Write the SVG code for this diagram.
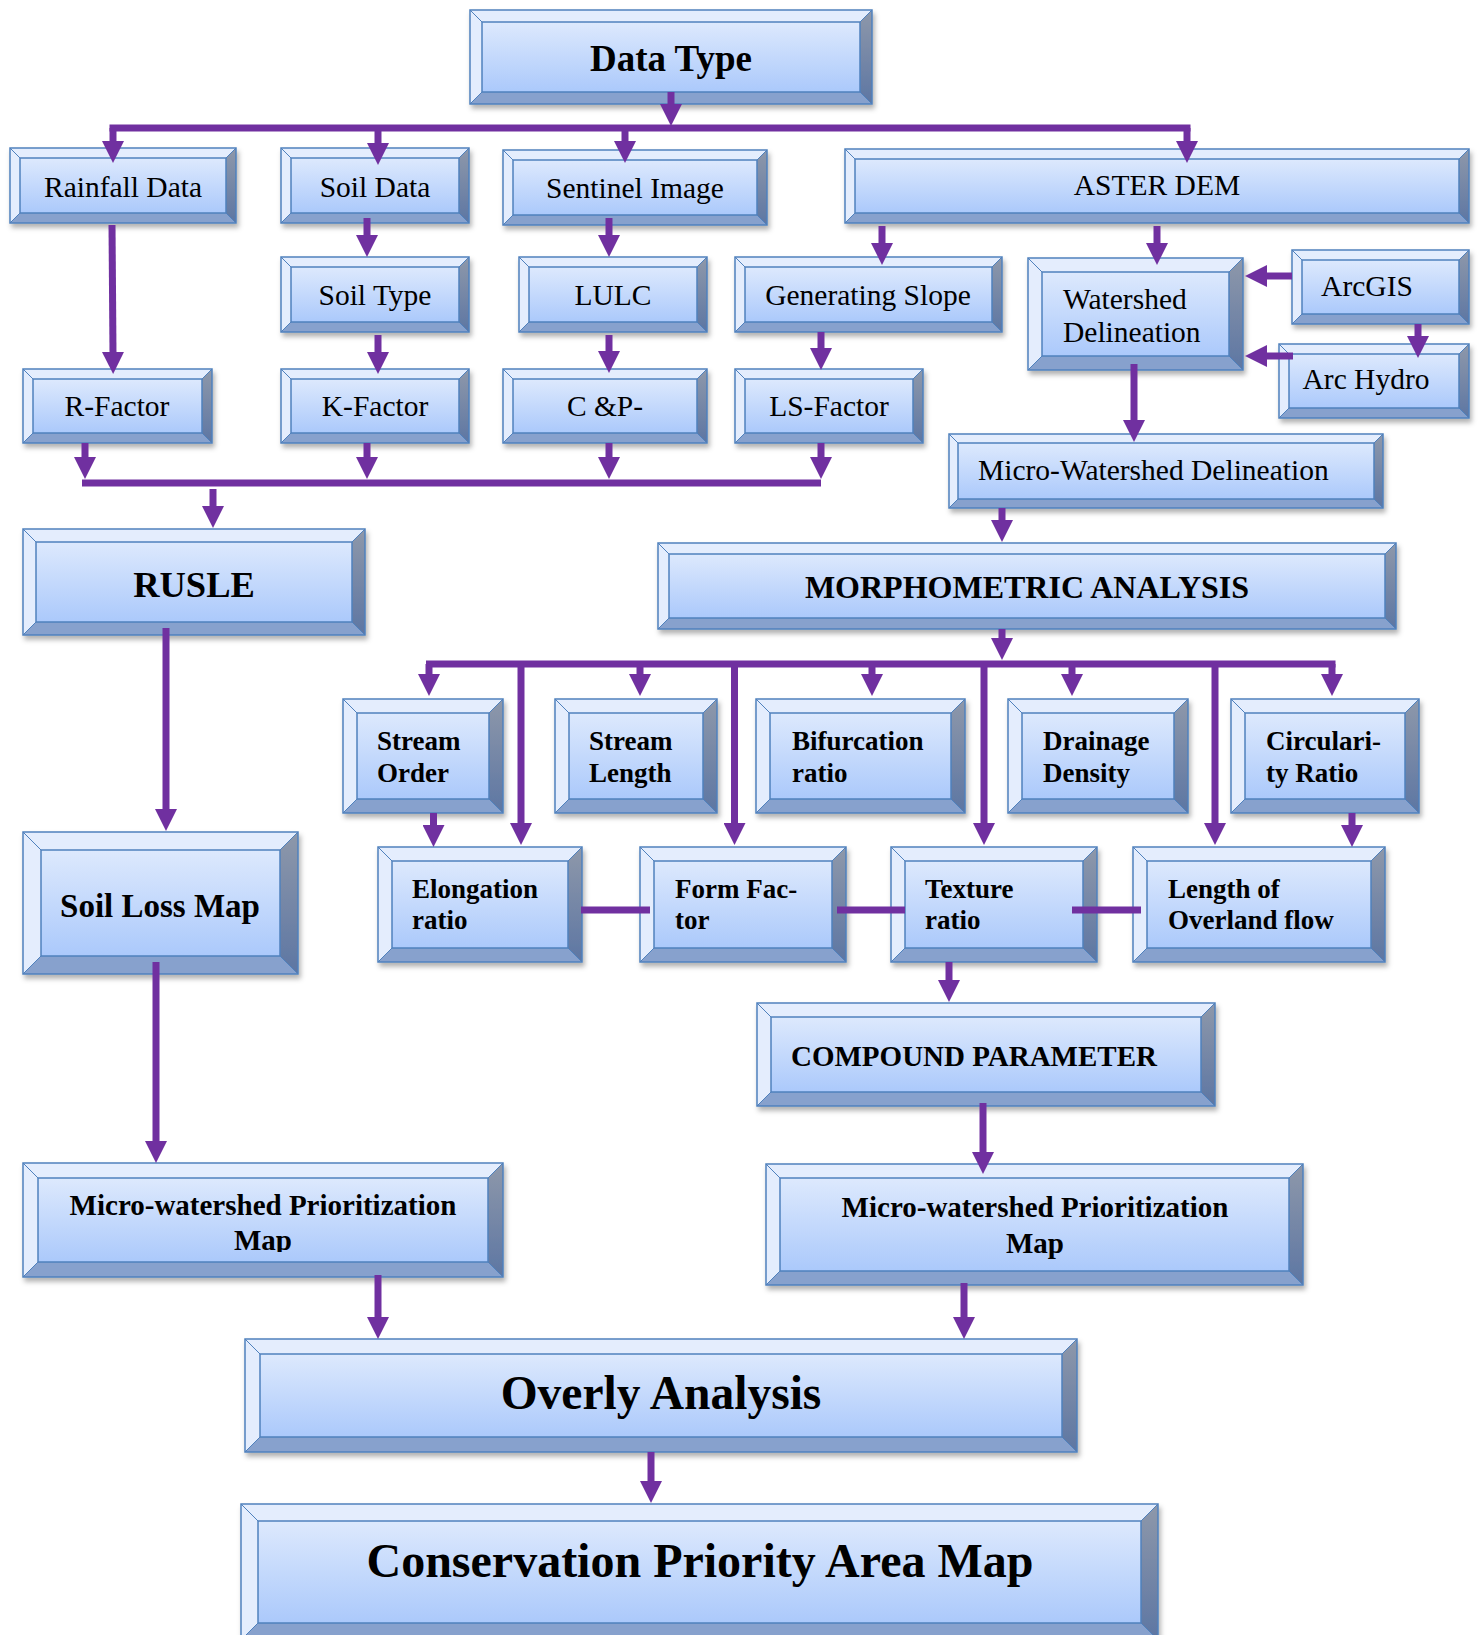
<svg xmlns="http://www.w3.org/2000/svg" width="1480" height="1635" viewBox="0 0 1480 1635">
<style>
.o{fill:#87a1cd}
.lt{fill:#e4edfd}
.rt{fill:url(#gR)}
.f{fill:url(#gF);stroke:#4f81bd;stroke-width:1.5}
.d{stroke:#4f81bd;stroke-width:1;fill:none}
.e{fill:none;stroke:#4f81bd;stroke-width:1.5}
.box{filter:url(#sh)}
text{font-family:"Liberation Serif","Times New Roman",serif;fill:#000}
.r{font-size:29.5px}
.b{font-weight:bold}
.m{text-anchor:middle}
.s27{font-size:27px}
.c{fill:none;stroke:#7030a0;stroke-width:7}
.ca{marker-end:url(#ah)}
</style>
<defs>
<linearGradient id="gF" x1="0" y1="0" x2="0" y2="1"><stop offset="0" stop-color="#dde9fd"/><stop offset="1" stop-color="#abc9fb"/></linearGradient>
<linearGradient id="gR" x1="0" y1="0" x2="0" y2="1"><stop offset="0" stop-color="#8e98aa"/><stop offset="1" stop-color="#5d76a3"/></linearGradient>
<filter id="sh" x="-5%" y="-10%" width="112%" height="135%"><feDropShadow dx="2" dy="4" stdDeviation="2.5" flood-color="#000" flood-opacity="0.3"/></filter>
<marker id="ah" markerUnits="userSpaceOnUse" markerWidth="22" markerHeight="22" viewBox="0 0 22 22" refX="1" refY="11" orient="auto"><path d="M0,0 L22,11 L0,22 Z" fill="#7030a0"/></marker>
<clipPath id="clipPL"><rect x="23" y="1163" width="480" height="89"/></clipPath>
</defs>
<rect width="1480" height="1635" fill="#fff"/>

<g id="nodes">
<g id="n-datatype"><g class="box"><rect class="o" x="470" y="10" width="402" height="94"/><path class="lt" d="M470,104 V10 H872 L860,22 H482 V92 Z"/><path class="rt" d="M872,10 V104 L860,92 V22 Z"/><rect class="f" x="482" y="22" width="378" height="70"/><path class="d" d="M470,10 l12,12 M872,10 l-12,12 M470,104 l12,-12 M872,104 l-12,-12"/><rect class="e" x="470" y="10" width="402" height="94"/></g><text class="b m" x="671" y="71" font-size="37">Data Type</text></g>

<g id="n-rainfall"><g class="box"><rect class="o" x="10" y="148" width="226" height="75"/><path class="lt" d="M10,223 V148 H236 L226,158 H20 V213 Z"/><path class="rt" d="M236,148 V223 L226,213 V158 Z"/><rect class="f" x="20" y="158" width="206" height="55"/><path class="d" d="M10,148 l10,10 M236,148 l-10,10 M10,223 l10,-10 M236,223 l-10,-10"/><rect class="e" x="10" y="148" width="226" height="75"/></g><text class="r m" x="123" y="197">Rainfall Data</text></g>

<g id="n-soildata"><g class="box"><rect class="o" x="281" y="148" width="188" height="75"/><path class="lt" d="M281,223 V148 H469 L459,158 H291 V213 Z"/><path class="rt" d="M469,148 V223 L459,213 V158 Z"/><rect class="f" x="291" y="158" width="168" height="55"/><path class="d" d="M281,148 l10,10 M469,148 l-10,10 M281,223 l10,-10 M469,223 l-10,-10"/><rect class="e" x="281" y="148" width="188" height="75"/></g><text class="r m" x="375" y="197">Soil Data</text></g>

<g id="n-sentinel"><g class="box"><rect class="o" x="503" y="150" width="264" height="75"/><path class="lt" d="M503,225 V150 H767 L757,160 H513 V215 Z"/><path class="rt" d="M767,150 V225 L757,215 V160 Z"/><rect class="f" x="513" y="160" width="244" height="55"/><path class="d" d="M503,150 l10,10 M767,150 l-10,10 M503,225 l10,-10 M767,225 l-10,-10"/><rect class="e" x="503" y="150" width="264" height="75"/></g><text class="r m" x="635" y="198">Sentinel Image</text></g>

<g id="n-aster"><g class="box"><rect class="o" x="845" y="149" width="624" height="74"/><path class="lt" d="M845,223 V149 H1469 L1459,159 H855 V213 Z"/><path class="rt" d="M1469,149 V223 L1459,213 V159 Z"/><rect class="f" x="855" y="159" width="604" height="54"/><path class="d" d="M845,149 l10,10 M1469,149 l-10,10 M845,223 l10,-10 M1469,223 l-10,-10"/><rect class="e" x="845" y="149" width="624" height="74"/></g><text class="r m" x="1157" y="195">ASTER DEM</text></g>

<g id="n-soiltype"><g class="box"><rect class="o" x="281" y="257" width="188" height="75"/><path class="lt" d="M281,332 V257 H469 L459,267 H291 V322 Z"/><path class="rt" d="M469,257 V332 L459,322 V267 Z"/><rect class="f" x="291" y="267" width="168" height="55"/><path class="d" d="M281,257 l10,10 M469,257 l-10,10 M281,332 l10,-10 M469,332 l-10,-10"/><rect class="e" x="281" y="257" width="188" height="75"/></g><text class="r m" x="375" y="305">Soil Type</text></g>

<g id="n-lulc"><g class="box"><rect class="o" x="519" y="257" width="188" height="75"/><path class="lt" d="M519,332 V257 H707 L697,267 H529 V322 Z"/><path class="rt" d="M707,257 V332 L697,322 V267 Z"/><rect class="f" x="529" y="267" width="168" height="55"/><path class="d" d="M519,257 l10,10 M707,257 l-10,10 M519,332 l10,-10 M707,332 l-10,-10"/><rect class="e" x="519" y="257" width="188" height="75"/></g><text class="r m" x="613" y="305">LULC</text></g>

<g id="n-genslope"><g class="box"><rect class="o" x="735" y="257" width="267" height="75"/><path class="lt" d="M735,332 V257 H1002 L992,267 H745 V322 Z"/><path class="rt" d="M1002,257 V332 L992,322 V267 Z"/><rect class="f" x="745" y="267" width="247" height="55"/><path class="d" d="M735,257 l10,10 M1002,257 l-10,10 M735,332 l10,-10 M1002,332 l-10,-10"/><rect class="e" x="735" y="257" width="267" height="75"/></g><text class="r m" x="868" y="305">Generating Slope</text></g>

<g id="n-watershed"><g class="box"><rect class="o" x="1028" y="258" width="215" height="112"/><path class="lt" d="M1028,370 V258 H1243 L1229,272 H1042 V356 Z"/><path class="rt" d="M1243,258 V370 L1229,356 V272 Z"/><rect class="f" x="1042" y="272" width="187" height="84"/><path class="d" d="M1028,258 l14,14 M1243,258 l-14,14 M1028,370 l14,-14 M1243,370 l-14,-14"/><rect class="e" x="1028" y="258" width="215" height="112"/></g><text class="r" x="1063" y="309">Watershed</text><text class="r" x="1063" y="342">Delineation</text></g>

<g id="n-arcgis"><g class="box"><rect class="o" x="1292" y="250" width="177" height="74"/><path class="lt" d="M1292,324 V250 H1469 L1459,260 H1302 V314 Z"/><path class="rt" d="M1469,250 V324 L1459,314 V260 Z"/><rect class="f" x="1302" y="260" width="157" height="54"/><path class="d" d="M1292,250 l10,10 M1469,250 l-10,10 M1292,324 l10,-10 M1469,324 l-10,-10"/><rect class="e" x="1292" y="250" width="177" height="74"/></g><text class="r m" x="1367" y="296">ArcGIS</text></g>

<g id="n-archydro"><g class="box"><rect class="o" x="1279" y="344" width="190" height="74"/><path class="lt" d="M1279,418 V344 H1469 L1459,354 H1289 V408 Z"/><path class="rt" d="M1469,344 V418 L1459,408 V354 Z"/><rect class="f" x="1289" y="354" width="170" height="54"/><path class="d" d="M1279,344 l10,10 M1469,344 l-10,10 M1279,418 l10,-10 M1469,418 l-10,-10"/><rect class="e" x="1279" y="344" width="190" height="74"/></g><text class="r m" x="1366" y="389">Arc Hydro</text></g>

<g id="n-rfactor"><g class="box"><rect class="o" x="23" y="369" width="189" height="74"/><path class="lt" d="M23,443 V369 H212 L202,379 H33 V433 Z"/><path class="rt" d="M212,369 V443 L202,433 V379 Z"/><rect class="f" x="33" y="379" width="169" height="54"/><path class="d" d="M23,369 l10,10 M212,369 l-10,10 M23,443 l10,-10 M212,443 l-10,-10"/><rect class="e" x="23" y="369" width="189" height="74"/></g><text class="r m" x="117" y="416">R-Factor</text></g>

<g id="n-kfactor"><g class="box"><rect class="o" x="281" y="369" width="188" height="74"/><path class="lt" d="M281,443 V369 H469 L459,379 H291 V433 Z"/><path class="rt" d="M469,369 V443 L459,433 V379 Z"/><rect class="f" x="291" y="379" width="168" height="54"/><path class="d" d="M281,369 l10,10 M469,369 l-10,10 M281,443 l10,-10 M469,443 l-10,-10"/><rect class="e" x="281" y="369" width="188" height="74"/></g><text class="r m" x="375" y="416">K-Factor</text></g>

<g id="n-cp"><g class="box"><rect class="o" x="503" y="369" width="204" height="74"/><path class="lt" d="M503,443 V369 H707 L697,379 H513 V433 Z"/><path class="rt" d="M707,369 V443 L697,433 V379 Z"/><rect class="f" x="513" y="379" width="184" height="54"/><path class="d" d="M503,369 l10,10 M707,369 l-10,10 M503,443 l10,-10 M707,443 l-10,-10"/><rect class="e" x="503" y="369" width="204" height="74"/></g><text class="r m" x="605" y="416">C &amp;P-</text></g>

<g id="n-lsfactor"><g class="box"><rect class="o" x="735" y="369" width="188" height="74"/><path class="lt" d="M735,443 V369 H923 L913,379 H745 V433 Z"/><path class="rt" d="M923,369 V443 L913,433 V379 Z"/><rect class="f" x="745" y="379" width="168" height="54"/><path class="d" d="M735,369 l10,10 M923,369 l-10,10 M735,443 l10,-10 M923,443 l-10,-10"/><rect class="e" x="735" y="369" width="188" height="74"/></g><text class="r m" x="829" y="416">LS-Factor</text></g>

<g id="n-microws"><g class="box"><rect class="o" x="949" y="434" width="434" height="74"/><path class="lt" d="M949,508 V434 H1383 L1374,443 H958 V499 Z"/><path class="rt" d="M1383,434 V508 L1374,499 V443 Z"/><rect class="f" x="958" y="443" width="416" height="56"/><path class="d" d="M949,434 l9,9 M1383,434 l-9,9 M949,508 l9,-9 M1383,508 l-9,-9"/><rect class="e" x="949" y="434" width="434" height="74"/></g><text class="r" x="978" y="480">Micro-Watershed Delineation</text></g>

<g id="n-rusle"><g class="box"><rect class="o" x="23" y="529" width="342" height="106"/><path class="lt" d="M23,635 V529 H365 L352,542 H36 V622 Z"/><path class="rt" d="M365,529 V635 L352,622 V542 Z"/><rect class="f" x="36" y="542" width="316" height="80"/><path class="d" d="M23,529 l13,13 M365,529 l-13,13 M23,635 l13,-13 M365,635 l-13,-13"/><rect class="e" x="23" y="529" width="342" height="106"/></g><text class="b m" x="194" y="597" font-size="36.5">RUSLE</text></g>

<g id="n-morph"><g class="box"><rect class="o" x="658" y="543" width="738" height="86"/><path class="lt" d="M658,629 V543 H1396 L1385,554 H669 V618 Z"/><path class="rt" d="M1396,543 V629 L1385,618 V554 Z"/><rect class="f" x="669" y="554" width="716" height="64"/><path class="d" d="M658,543 l11,11 M1396,543 l-11,11 M658,629 l11,-11 M1396,629 l-11,-11"/><rect class="e" x="658" y="543" width="738" height="86"/></g><text class="b m" x="1027" y="598" font-size="32">MORPHOMETRIC ANALYSIS</text></g>

<g id="n-streamorder"><g class="box"><rect class="o" x="343" y="699" width="160" height="114"/><path class="lt" d="M343,813 V699 H503 L489,713 H357 V799 Z"/><path class="rt" d="M503,699 V813 L489,799 V713 Z"/><rect class="f" x="357" y="713" width="132" height="86"/><path class="d" d="M343,699 l14,14 M503,699 l-14,14 M343,813 l14,-14 M503,813 l-14,-14"/><rect class="e" x="343" y="699" width="160" height="114"/></g><text class="b s27" x="377" y="750">Stream</text><text class="b s27" x="377" y="782">Order</text></g>

<g id="n-streamlength"><g class="box"><rect class="o" x="555" y="699" width="162" height="114"/><path class="lt" d="M555,813 V699 H717 L703,713 H569 V799 Z"/><path class="rt" d="M717,699 V813 L703,799 V713 Z"/><rect class="f" x="569" y="713" width="134" height="86"/><path class="d" d="M555,699 l14,14 M717,699 l-14,14 M555,813 l14,-14 M717,813 l-14,-14"/><rect class="e" x="555" y="699" width="162" height="114"/></g><text class="b s27" x="589" y="750">Stream</text><text class="b s27" x="589" y="782">Length</text></g>

<g id="n-bifurcation"><g class="box"><rect class="o" x="756" y="699" width="209" height="114"/><path class="lt" d="M756,813 V699 H965 L951,713 H770 V799 Z"/><path class="rt" d="M965,699 V813 L951,799 V713 Z"/><rect class="f" x="770" y="713" width="181" height="86"/><path class="d" d="M756,699 l14,14 M965,699 l-14,14 M756,813 l14,-14 M965,813 l-14,-14"/><rect class="e" x="756" y="699" width="209" height="114"/></g><text class="b s27" x="792" y="750">Bifurcation</text><text class="b s27" x="792" y="782">ratio</text></g>

<g id="n-drainage"><g class="box"><rect class="o" x="1008" y="699" width="180" height="114"/><path class="lt" d="M1008,813 V699 H1188 L1174,713 H1022 V799 Z"/><path class="rt" d="M1188,699 V813 L1174,799 V713 Z"/><rect class="f" x="1022" y="713" width="152" height="86"/><path class="d" d="M1008,699 l14,14 M1188,699 l-14,14 M1008,813 l14,-14 M1188,813 l-14,-14"/><rect class="e" x="1008" y="699" width="180" height="114"/></g><text class="b s27" x="1043" y="750">Drainage</text><text class="b s27" x="1043" y="782">Density</text></g>

<g id="n-circularity"><g class="box"><rect class="o" x="1231" y="699" width="188" height="114"/><path class="lt" d="M1231,813 V699 H1419 L1405,713 H1245 V799 Z"/><path class="rt" d="M1419,699 V813 L1405,799 V713 Z"/><rect class="f" x="1245" y="713" width="160" height="86"/><path class="d" d="M1231,699 l14,14 M1419,699 l-14,14 M1231,813 l14,-14 M1419,813 l-14,-14"/><rect class="e" x="1231" y="699" width="188" height="114"/></g><text class="b s27" x="1266" y="750">Circulari-</text><text class="b s27" x="1266" y="782">ty Ratio</text></g>

<g id="n-elongation"><g class="box"><rect class="o" x="378" y="847" width="204" height="115"/><path class="lt" d="M378,962 V847 H582 L568,861 H392 V948 Z"/><path class="rt" d="M582,847 V962 L568,948 V861 Z"/><rect class="f" x="392" y="861" width="176" height="87"/><path class="d" d="M378,847 l14,14 M582,847 l-14,14 M378,962 l14,-14 M582,962 l-14,-14"/><rect class="e" x="378" y="847" width="204" height="115"/></g><text class="b s27" x="412" y="898">Elongation</text><text class="b s27" x="412" y="929">ratio</text></g>

<g id="n-formfactor"><g class="box"><rect class="o" x="640" y="847" width="206" height="115"/><path class="lt" d="M640,962 V847 H846 L832,861 H654 V948 Z"/><path class="rt" d="M846,847 V962 L832,948 V861 Z"/><rect class="f" x="654" y="861" width="178" height="87"/><path class="d" d="M640,847 l14,14 M846,847 l-14,14 M640,962 l14,-14 M846,962 l-14,-14"/><rect class="e" x="640" y="847" width="206" height="115"/></g><text class="b s27" x="675" y="898">Form Fac-</text><text class="b s27" x="675" y="929">tor</text></g>

<g id="n-texture"><g class="box"><rect class="o" x="891" y="847" width="206" height="115"/><path class="lt" d="M891,962 V847 H1097 L1083,861 H905 V948 Z"/><path class="rt" d="M1097,847 V962 L1083,948 V861 Z"/><rect class="f" x="905" y="861" width="178" height="87"/><path class="d" d="M891,847 l14,14 M1097,847 l-14,14 M891,962 l14,-14 M1097,962 l-14,-14"/><rect class="e" x="891" y="847" width="206" height="115"/></g><text class="b s27" x="925" y="898">Texture</text><text class="b s27" x="925" y="929">ratio</text></g>

<g id="n-overland"><g class="box"><rect class="o" x="1133" y="847" width="252" height="115"/><path class="lt" d="M1133,962 V847 H1385 L1371,861 H1147 V948 Z"/><path class="rt" d="M1385,847 V962 L1371,948 V861 Z"/><rect class="f" x="1147" y="861" width="224" height="87"/><path class="d" d="M1133,847 l14,14 M1385,847 l-14,14 M1133,962 l14,-14 M1385,962 l-14,-14"/><rect class="e" x="1133" y="847" width="252" height="115"/></g><text class="b s27" x="1168" y="898">Length of</text><text class="b s27" x="1168" y="929">Overland flow</text></g>

<g id="n-soilloss"><g class="box"><rect class="o" x="23" y="832" width="275" height="142"/><path class="lt" d="M23,974 V832 H298 L280,850 H41 V956 Z"/><path class="rt" d="M298,832 V974 L280,956 V850 Z"/><rect class="f" x="41" y="850" width="239" height="106"/><path class="d" d="M23,832 l18,18 M298,832 l-18,18 M23,974 l18,-18 M298,974 l-18,-18"/><rect class="e" x="23" y="832" width="275" height="142"/></g><text class="b m" x="160" y="917" font-size="33">Soil Loss Map</text></g>

<g id="n-compound"><g class="box"><rect class="o" x="757" y="1003" width="458" height="103"/><path class="lt" d="M757,1106 V1003 H1215 L1201,1017 H771 V1092 Z"/><path class="rt" d="M1215,1003 V1106 L1201,1092 V1017 Z"/><rect class="f" x="771" y="1017" width="430" height="75"/><path class="d" d="M757,1003 l14,14 M1215,1003 l-14,14 M757,1106 l14,-14 M1215,1106 l-14,-14"/><rect class="e" x="757" y="1003" width="458" height="103"/></g><text class="b" x="791" y="1066" font-size="29">COMPOUND PARAMETER</text></g>

<g id="n-priorleft"><g class="box"><rect class="o" x="23" y="1163" width="480" height="114"/><path class="lt" d="M23,1277 V1163 H503 L488,1178 H38 V1262 Z"/><path class="rt" d="M503,1163 V1277 L488,1262 V1178 Z"/><rect class="f" x="38" y="1178" width="450" height="84"/><path class="d" d="M23,1163 l15,15 M503,1163 l-15,15 M23,1277 l15,-15 M503,1277 l-15,-15"/><rect class="e" x="23" y="1163" width="480" height="114"/></g><g clip-path="url(#clipPL)"><text class="b m" x="263" y="1215" font-size="29">Micro-watershed Prioritization</text><text class="b m" x="263" y="1250" font-size="29">Map</text></g></g>

<g id="n-priorright"><g class="box"><rect class="o" x="766" y="1164" width="537" height="121"/><path class="lt" d="M766,1285 V1164 H1303 L1289,1178 H780 V1271 Z"/><path class="rt" d="M1303,1164 V1285 L1289,1271 V1178 Z"/><rect class="f" x="780" y="1178" width="509" height="93"/><path class="d" d="M766,1164 l14,14 M1303,1164 l-14,14 M766,1285 l14,-14 M1303,1285 l-14,-14"/><rect class="e" x="766" y="1164" width="537" height="121"/></g><text class="b m" x="1035" y="1217" font-size="29">Micro-watershed Prioritization</text><text class="b m" x="1035" y="1253" font-size="29">Map</text></g>

<g id="n-overly"><g class="box"><rect class="o" x="245" y="1339" width="832" height="113"/><path class="lt" d="M245,1452 V1339 H1077 L1062,1354 H260 V1437 Z"/><path class="rt" d="M1077,1339 V1452 L1062,1437 V1354 Z"/><rect class="f" x="260" y="1354" width="802" height="83"/><path class="d" d="M245,1339 l15,15 M1077,1339 l-15,15 M245,1452 l15,-15 M1077,1452 l-15,-15"/><rect class="e" x="245" y="1339" width="832" height="113"/></g><text class="b m" x="661" y="1409" font-size="47.5">Overly Analysis</text></g>

<g id="n-conservation"><g class="box"><rect class="o" x="241" y="1504" width="917" height="136"/><path class="lt" d="M241,1640 V1504 H1158 L1141,1521 H258 V1623 Z"/><path class="rt" d="M1158,1504 V1640 L1141,1623 V1521 Z"/><rect class="f" x="258" y="1521" width="883" height="102"/><path class="d" d="M241,1504 l17,17 M1158,1504 l-17,17 M241,1640 l17,-17 M1158,1640 l-17,-17"/><rect class="e" x="241" y="1504" width="917" height="136"/></g><text class="b m" x="700" y="1577" font-size="48">Conservation Priority Area Map</text></g>
</g>

<g id="connectors">
<path class="c ca" d="M671,92 V105"/>
<path class="c" d="M109.5,128 H1190.5"/>
<path class="c ca" d="M113,128 V142"/>
<path class="c ca" d="M378,128 V144"/>
<path class="c ca" d="M625,128 V142"/>
<path class="c ca" d="M1187,128 V142"/>
<path class="c ca" d="M112,225 L113,353"/>
<path class="c ca" d="M367,218 V236"/>
<path class="c ca" d="M378,335 V353"/>
<path class="c ca" d="M609,218 V236"/>
<path class="c ca" d="M609,335 V352"/>
<path class="c ca" d="M882,226 V244"/>
<path class="c ca" d="M1157,226 V244"/>
<path class="c ca" d="M821,332 V349"/>
<path class="c ca" d="M1292,276 H1266"/>
<path class="c ca" d="M1418,324 V337"/>
<path class="c ca" d="M1293,356 H1266"/>
<path class="c ca" d="M1134,364 V421"/>
<path class="c ca" d="M85,443 V458"/>
<path class="c ca" d="M367,443 V458"/>
<path class="c ca" d="M609,443 V458"/>
<path class="c ca" d="M821,443 V458"/>
<path class="c" d="M82,483 H821"/>
<path class="c ca" d="M213,489 V507"/>
<path class="c ca" d="M166,628 V810"/>
<path class="c ca" d="M156,962 V1142"/>
<path class="c ca" d="M378,1275 V1318"/>
<path class="c ca" d="M1002,508 V521"/>
<path class="c ca" d="M1002,629 V639"/>
<path class="c" d="M426,664 H1335.5"/>
<path class="c ca" d="M429,664 V675"/>
<path class="c ca" d="M640,664 V675"/>
<path class="c ca" d="M872,664 V675"/>
<path class="c ca" d="M1072,664 V675"/>
<path class="c ca" d="M1332,664 V675"/>
<path class="c ca" d="M521,664 V824"/>
<path class="c ca" d="M734.5,664 V824"/>
<path class="c ca" d="M984,664 V824"/>
<path class="c ca" d="M1215,664 V824"/>
<path class="c ca" d="M433.5,813 V826"/>
<path class="c ca" d="M1352,813 V826"/>
<path class="c" d="M581,910 H650"/>
<path class="c" d="M837,910 H905"/>
<path class="c" d="M1072,910 H1141"/>
<path class="c ca" d="M949,962 V981"/>
<path class="c ca" d="M983,1103 V1153"/>
<path class="c ca" d="M964,1283 V1318"/>
<path class="c ca" d="M651,1452 V1482"/>
</g>
</svg>
